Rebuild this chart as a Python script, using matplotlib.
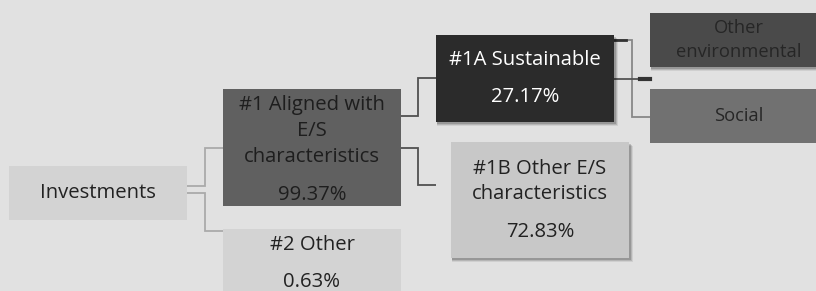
import matplotlib
matplotlib.use("Agg")
import matplotlib.pyplot as plt
from matplotlib.patches import Rectangle

plt.rcParams['font.family'] = ['Open Sans', 'DejaVu Sans']

# Data
node_labels = ["Investments", "#1 Aligned with\nE/S\ncharacteristics", "#2 Other",
               "#1A Sustainable", "#1B Other E/S\ncharacteristics",
               "Other\nenvironmental", "Social"]
node_values = [None, "99.37%", "0.63%", "27.17%", "72.83%", None, None]

# Layout (pixel coordinates: x0, y0, x1, y1)
boxes = [
    (9, 166, 187, 220),
    (223, 89, 401, 206),
    (223, 229, 401, 300),
    (436, 35, 614, 122),
    (451, 142, 629, 258),
    (650, 13, 820, 67),
    (650, 89, 820, 143),
]
face = ["#d3d3d3", "#606060", "#d3d3d3", "#2b2b2b", "#c8c8c8", "#4a4a4a", "#717171"]
tcol = ["#222222", "#1e1e1e", "#222222", "#ffffff", "#222222", "#262626", "#262626"]
shadow = [False, False, False, True, True, True, False]

FS = 14.6
FS2 = 13.2

fig = plt.figure(figsize=(8.16, 2.91), dpi=100)
fig.patch.set_facecolor("#e1e1e1")
ax = fig.add_axes([0, 0, 1, 1])
ax.set_xlim(0, 816)
ax.set_ylim(291, 0)
ax.axis("off")
ax.set_facecolor("#e1e1e1")

# connectors
def elbow(x0, y0, xm, y1, x1, color, lw=1.3):
    ax.plot([x0, xm, xm, x1], [y0, y0, y1, y1], color=color, lw=lw,
            solid_capstyle="butt", solid_joinstyle="miter", zorder=1)

elbow(187, 186, 205, 148, 223, "#aaaaaa")
elbow(187, 193, 205, 231, 223, "#aaaaaa")
elbow(401, 116, 418, 78, 436, "#505050")
elbow(401, 148, 418, 185, 436, "#505050")
elbow(614, 40, 632, 117, 650, "#888888")
ax.plot([614, 650], [79, 79], color="#555555", lw=1.3, zorder=1)
ax.plot([640, 650], [79, 79], color="#333333", lw=3, zorder=1)
ax.plot([614, 626], [40, 40], color="#333333", lw=2, zorder=1)

for i, (x0, y0, x1, y1) in enumerate(boxes):
    if shadow[i]:
        for k, a in [(4, 0.08), (3, 0.12), (2, 0.16)]:
            ax.add_patch(Rectangle((x0 + 1, y0 + k), x1 - x0 + k - 1, y1 - y0,
                                   facecolor="#000000", alpha=a, lw=0, zorder=2))
    ax.add_patch(Rectangle((x0, y0), x1 - x0, y1 - y0, facecolor=face[i],
                           edgecolor="none", zorder=3))

def txt(x, y, s, c, fs=FS, ls=1.0):
    ax.text(x, y, s, ha="center", va="center", color=c, fontsize=fs,
            linespacing=ls, zorder=4)

# Investments
txt(98, 193, node_labels[0], tcol[0])
# #1
txt(312, 131, node_labels[1], tcol[1], ls=1.38)
txt(312, 195, node_values[1], tcol[1])
# #2
txt(312, 245, node_labels[2], tcol[2])
txt(312, 282, node_values[2], tcol[2])
# #1A
txt(525, 60, node_labels[3], tcol[3])
txt(525, 97, node_values[3], tcol[3])
# #1B
txt(540, 181.5, node_labels[4], tcol[4], ls=1.38)
txt(540, 232, node_values[4], tcol[4])
# Other environmental
txt(739, 40, node_labels[5], tcol[5], fs=FS2, ls=1.42)
# Social
txt(739, 116, node_labels[6], tcol[6], fs=FS2)

fig.savefig("out.png", dpi=100, facecolor=fig.get_facecolor())
